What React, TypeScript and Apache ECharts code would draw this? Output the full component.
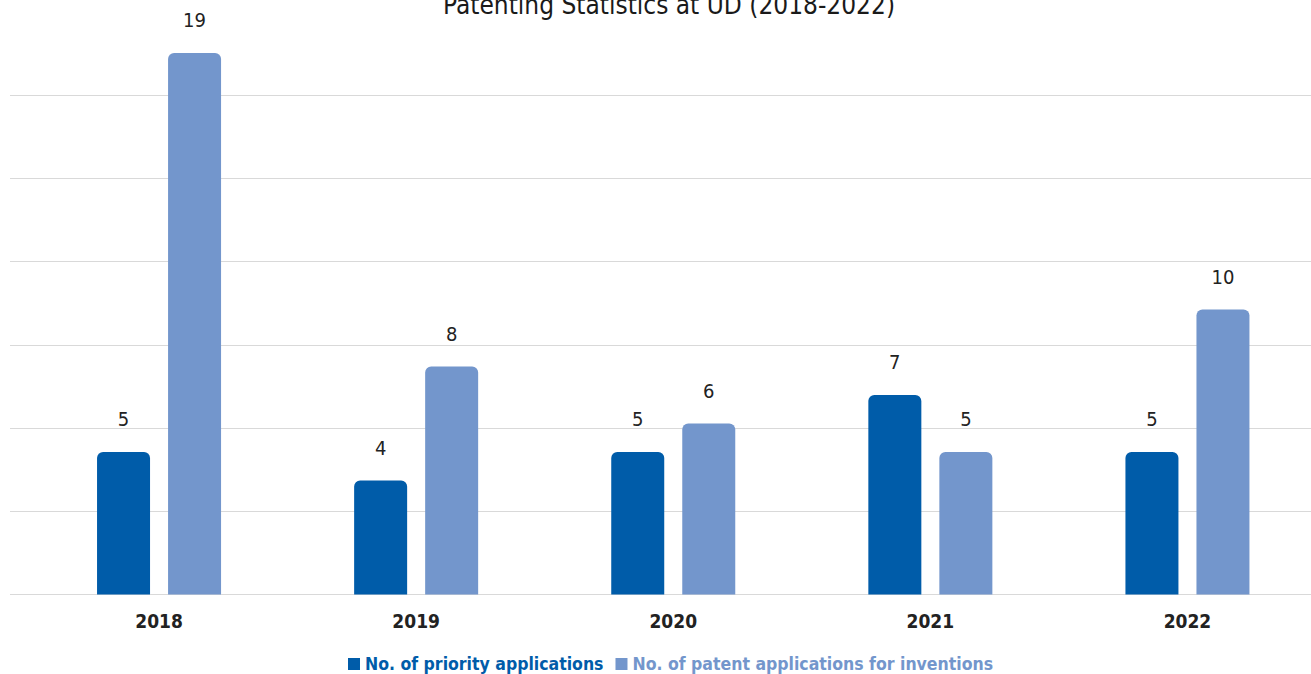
import React, { useEffect, useRef } from "react";
import * as echarts from "echarts";

const years = ["2018", "2019", "2020", "2021", "2022"];
const priorityApps = [5, 4, 5, 7, 5];
const patentApps = [19, 8, 6, 5, 10];
const seriesNames = ["No. of priority applications", "No. of patent applications for inventions"];
const colors = ["#005CA9", "#7396CC"];
const gridLevels = [0, 1, 2, 3, 4, 5, 6];

const FONT = "'DejaVu Sans Condensed', 'Liberation Sans Narrow', sans-serif";

export default function App() {
  const ref = useRef<HTMLDivElement>(null);
  useEffect(() => {
    document.body.style.margin = "0";
    document.body.style.overflow = "hidden";
    document.documentElement.style.overflow = "hidden";
    const chart = echarts.init(ref.current!, undefined, { renderer: "svg" });
    chart.setOption({
      animation: false,
      backgroundColor: "#ffffff",
      title: {
        text: "Patenting Statistics at UD (2018-2022)",
        left: 438,
        top: -13,
        textStyle: { fontFamily: FONT, fontSize: 26, fontWeight: "normal", color: "#1a1a1a" },
      },
      legend: {
        left: 348,
        top: 655,
        padding: 0,
        icon: "rect",
        itemWidth: 12,
        itemHeight: 12,
        itemGap: 12,
        textStyle: { fontFamily: FONT, fontSize: 17.5, fontWeight: "bold" },
        data: [
          { name: seriesNames[0], textStyle: { color: colors[0] } },
          { name: seriesNames[1], textStyle: { color: colors[1] } },
        ],
      },
      grid: [
        { left: 30.5, right: 4, top: 95, bottom: 79.5 },
        { left: 10, right: 9, top: 95, bottom: 79.5 },
      ],
      xAxis: [
        {
          type: "category",
          gridIndex: 0,
          data: years,
          axisLine: { show: false },
          axisTick: { show: false },
          axisLabel: { margin: 17, fontFamily: FONT, fontSize: 19, color: "#222222", fontWeight: "bold" },
        },
        { type: "value", gridIndex: 1, show: false, min: 0, max: 1 },
      ],
      yAxis: [
        { type: "value", gridIndex: 0, min: 0, max: 17.53, show: false, splitLine: { show: false } },
        {
          type: "value",
          gridIndex: 1,
          min: gridLevels[0],
          max: gridLevels[gridLevels.length - 1],
          interval: 1,
          axisLabel: { show: false },
          axisLine: { show: false },
          axisTick: { show: false },
          splitLine: { show: true, lineStyle: { color: "#d9d9d9", width: 1 } },
        },
      ],
      series: [
        {
          name: seriesNames[0],
          type: "bar",
          xAxisIndex: 0,
          yAxisIndex: 0,
          data: priorityApps,
          barWidth: 53,
          barGap: "34%",
          clip: false,
          itemStyle: { color: colors[0], borderRadius: [6, 6, 0, 0] },
          label: { show: true, position: "top", distance: 23, fontFamily: FONT, fontSize: 20, color: "#222222" },
        },
        {
          name: seriesNames[1],
          type: "bar",
          xAxisIndex: 0,
          yAxisIndex: 0,
          data: patentApps,
          barWidth: 53,
          barGap: "34%",
          clip: false,
          itemStyle: { color: colors[1], borderRadius: [6, 6, 0, 0] },
          label: { show: true, position: "top", distance: 23, fontFamily: FONT, fontSize: 20, color: "#222222" },
        },
      ],
    });
    return () => chart.dispose();
  }, []);
  return <div ref={ref} style={{ position: "absolute", left: 0, top: 0, width: 1320, height: 674 }} />;
}
